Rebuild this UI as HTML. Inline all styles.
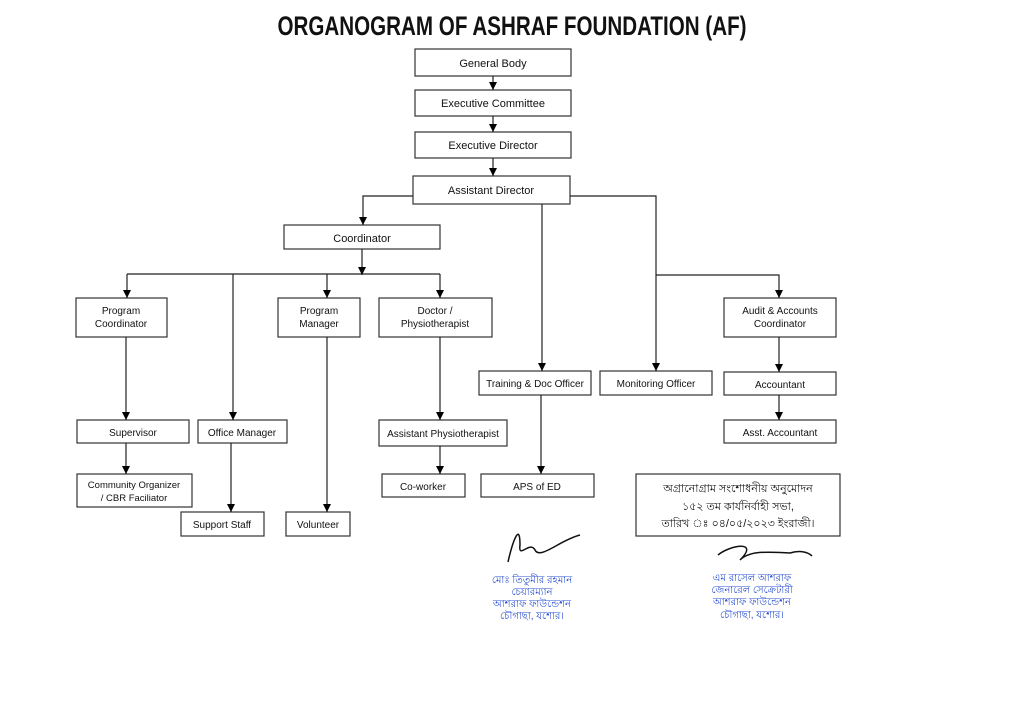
<!DOCTYPE html>
<html><head><meta charset="utf-8"><style>
html,body{margin:0;padding:0;background:#fff;}
svg{display:block;}
text{font-family:"Liberation Sans",sans-serif;fill:#111;}
.b{font-size:11px;}
.bn{font-family:"Liberation Sans","Noto Sans Bengali","Lohit Bengali","Noto Sans CJK SC",sans-serif;}
</style></head><body>
<svg width="1024" height="715" viewBox="0 0 1024 715" xmlns="http://www.w3.org/2000/svg">
<defs><marker id="a" markerWidth="8" markerHeight="8" refX="8" refY="4" orient="auto" markerUnits="userSpaceOnUse"><path d="M0,0 L8,4 L0,8 z" fill="#000"/></marker></defs>
<text x="512" y="35" text-anchor="middle" font-size="27" font-weight="bold" textLength="469" lengthAdjust="spacingAndGlyphs">ORGANOGRAM OF ASHRAF FOUNDATION (AF)</text>
<g fill="none" stroke="#333" stroke-width="1.2">
<rect x="415" y="49" width="156" height="27"/>
<rect x="415" y="90" width="156" height="26"/>
<rect x="415" y="132" width="156" height="26"/>
<rect x="413" y="176" width="157" height="28"/>
<rect x="284" y="225" width="156" height="24"/>
<rect x="76" y="298" width="91" height="39"/>
<rect x="278" y="298" width="82" height="39"/>
<rect x="379" y="298" width="113" height="39"/>
<rect x="724" y="298" width="112" height="39"/>
<rect x="479" y="371" width="112" height="24"/>
<rect x="600" y="371" width="112" height="24"/>
<rect x="724" y="372" width="112" height="23"/>
<rect x="77" y="420" width="112" height="23"/>
<rect x="198" y="420" width="89" height="23"/>
<rect x="379" y="420" width="128" height="26"/>
<rect x="724" y="420" width="112" height="23"/>
<rect x="77" y="474" width="115" height="33"/>
<rect x="382" y="474" width="83" height="23"/>
<rect x="481" y="474" width="113" height="23"/>
<rect x="181" y="512" width="83" height="24"/>
<rect x="286" y="512" width="64" height="24"/>
<rect x="636" y="474" width="204" height="62"/>
</g>
<g fill="none" stroke="#222" stroke-width="1.2">
<path d="M493,76 V90" marker-end="url(#a)"/>
<path d="M493,116 V132" marker-end="url(#a)"/>
<path d="M493,158 V176" marker-end="url(#a)"/>
<path d="M413,196 H363 V225" marker-end="url(#a)"/>
<path d="M570,196 H656 V371" marker-end="url(#a)"/>
<path d="M656,275 H779 V298" marker-end="url(#a)"/>
<path d="M542,204 V371" marker-end="url(#a)"/>
<path d="M362,249 V275" marker-end="url(#a)"/>
<path d="M127,274 H440"/>
<path d="M127,274 V298" marker-end="url(#a)"/>
<path d="M327,274 V298" marker-end="url(#a)"/>
<path d="M440,274 V298" marker-end="url(#a)"/>
<path d="M233,274 V420" marker-end="url(#a)"/>
<path d="M126,337 V420" marker-end="url(#a)"/>
<path d="M126,443 V474" marker-end="url(#a)"/>
<path d="M231,443 V512" marker-end="url(#a)"/>
<path d="M327,337 V512" marker-end="url(#a)"/>
<path d="M440,337 V420" marker-end="url(#a)"/>
<path d="M440,446 V474" marker-end="url(#a)"/>
<path d="M541,395 V474" marker-end="url(#a)"/>
<path d="M779,337 V372" marker-end="url(#a)"/>
<path d="M779,395 V420" marker-end="url(#a)"/>
</g>
<g class="b" text-anchor="middle">
<text x="493" y="67">General Body</text>
<text x="493" y="107">Executive Committee</text>
<text x="493" y="149">Executive Director</text>
<text x="491" y="194">Assistant Director</text>
<text x="362" y="242">Coordinator</text>
<text x="121" y="314" font-size="10">Program</text>
<text x="121" y="327" font-size="10">Coordinator</text>
<text x="319" y="314" font-size="10">Program</text>
<text x="319" y="327" font-size="10">Manager</text>
<text x="435" y="314" font-size="10">Doctor /</text>
<text x="435" y="327" font-size="10">Physiotherapist</text>
<text x="780" y="314" font-size="10">Audit &amp; Accounts</text>
<text x="780" y="327" font-size="10">Coordinator</text>
<text x="535" y="387" font-size="10">Training &amp; Doc Officer</text>
<text x="656" y="387" font-size="10">Monitoring Officer</text>
<text x="780" y="388" font-size="10">Accountant</text>
<text x="133" y="436" font-size="10">Supervisor</text>
<text x="242" y="436" font-size="10">Office Manager</text>
<text x="443" y="437" font-size="10">Assistant Physiotherapist</text>
<text x="780" y="436" font-size="10">Asst. Accountant</text>
<text x="134" y="488" font-size="9.5">Community Organizer</text>
<text x="134" y="501" font-size="9.5">/ CBR Faciliator</text>
<text x="423" y="490" font-size="10">Co-worker</text>
<text x="537" y="490" font-size="10">APS of ED</text>
<text x="222" y="528" font-size="10">Support Staff</text>
<text x="318" y="528" font-size="10">Volunteer</text>
</g>
<g class="bn" text-anchor="middle" font-size="11">
<text x="738" y="492">অগ্রানোগ্রাম সংশোধনীয় অনুমোদন</text>
<text x="738" y="510">১৫২ তম কার্যনির্বাহী সভা,</text>
<text x="738" y="527">তারিখ ঃ ০৪/০৫/২০২৩ ইংরাজী।</text>
</g>
<g fill="none" stroke="#111" stroke-width="1.5">
<path d="M508,562 C513,540 520,522 520,545 C518,560 530,540 535,550 C540,560 560,540 580,535"/>
<path d="M718,555 C730,545 760,540 740,560 C750,550 770,552 790,553 C800,550 808,552 812,556"/>
</g>
<g class="bn" text-anchor="middle" font-size="10">
<text x="532" y="583" style="fill:#2a4fd0">মোঃ তিতুমীর রহমান</text>
<text x="532" y="595" style="fill:#2a4fd0">চেয়ারম্যান</text>
<text x="532" y="607" style="fill:#2a4fd0">আশরাফ ফাউন্ডেশন</text>
<text x="532" y="619" style="fill:#2a4fd0">চৌগাছা, যশোর।</text>
<text x="752" y="581" style="fill:#2a4fd0">এম রাসেল আশরাফ</text>
<text x="752" y="593" style="fill:#2a4fd0">জেনারেল সেক্রেটারী</text>
<text x="752" y="605" style="fill:#2a4fd0">আশরাফ ফাউন্ডেশন</text>
<text x="752" y="618" style="fill:#2a4fd0">চৌগাছা, যশোর।</text>
</g>
</svg>
</body></html>
